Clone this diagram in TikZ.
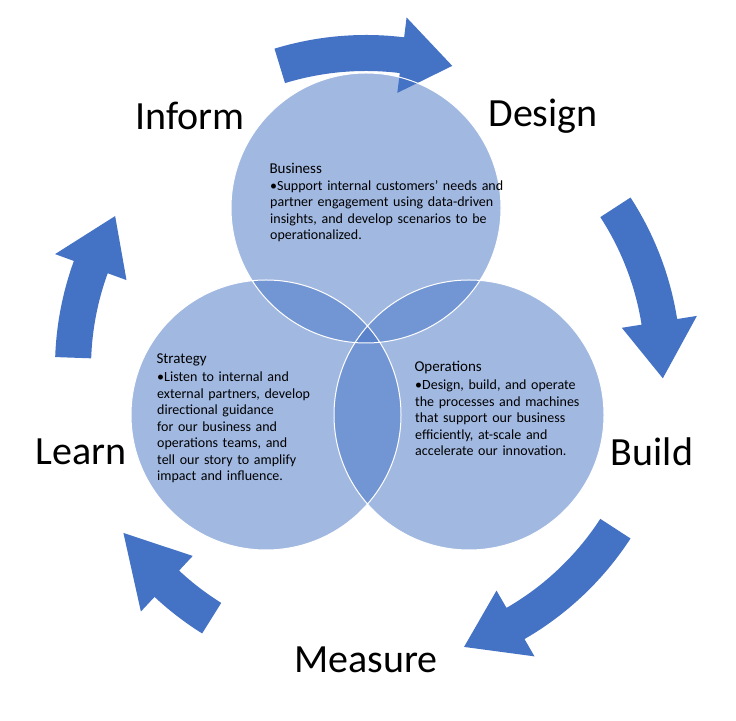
\documentclass[tikz,border=0pt]{standalone}
\usepackage{fontspec}
\setmainfont{Carlito}
\usetikzlibrary{positioning}
\definecolor{accent}{RGB}{68,114,196}
\tikzset{
  stage/.style={font=\fontsize{40}{44}\selectfont},
  venn/.style={fill=accent, fill opacity=0.5},
  head/.style={font=\fontsize{15}{18}\selectfont, anchor=west},
  body/.style={font=\fontsize{14}{16.5}\selectfont, execute at begin node={\hyphenpenalty=10000\relax},
    anchor=north west, align=left, inner sep=0pt}
}
% curved block arrow: start angle, end angle, tip angle
\newcommand{\cyclearrow}[3]{%
  \fill[accent] (#1:313) arc[start angle=#1, end angle=#2, radius=313]
    -- (#2:333) -- (#3:295) -- (#2:257) -- (#2:277)
    arc[start angle=#2, end angle=#1, radius=277] -- cycle;}
\begin{document}
\begin{tikzpicture}[x=1pt, y=1pt]
  \useasboundingbox (0,0) rectangle (736,720);
  % cycle arrows
  \begin{scope}[shift={(366,372)}]
    \cyclearrow{107}{83}{73}
  \end{scope}
  \begin{scope}[shift={(368,352)}]
    \cyclearrow{33}{9}{-2}
    \cyclearrow{-33}{-60}{-71}
    \cyclearrow{-122}{-133}{-146}
    \cyclearrow{178}{160}{149}
  \end{scope}
  % circles
  \fill[venn] (366,512) circle (135);
  \fill[venn] (266,305) circle (135);
  \fill[venn] (469,305) circle (135);
  \draw[white, line width=1pt] (366,512) circle (135) (266,305) circle (135) (469,305) circle (135);
  % stage names
  \node[stage] (inform) at (190,604) {Inform};
  \node[stage] (design) at (543,604) {Design};
  \node[stage] (build) at (652,268) {Build};
  \node[stage] (learn) at (81,268) {Learn};
  \node[stage] (measure) at (366,60) {Measure};
  % texts
  \node[head] (business) at (266,552) {Business};
  \node[body, text width=240pt] (businesstext) at (270,540)
    {\textbullet Support internal customers' needs and partner engagement using data-driven insights, and develop scenarios to be operationalized.};
  \node[head] (strategy) at (153,360) {Strategy};
  \node[body, text width=160pt] (strategytext) at (157,348)
    {\textbullet Listen to internal and external partners, develop directional guidance for our business and operations teams, and tell our story to amplify impact and influence.};
  \node[head] (operations) at (411,352) {Operations};
  \node[body, text width=180pt] (operationstext) at (415,340)
    {\textbullet Design, build, and operate the processes and machines that support our business efficiently, at-scale and accelerate our innovation.};
\end{tikzpicture}
\end{document}
